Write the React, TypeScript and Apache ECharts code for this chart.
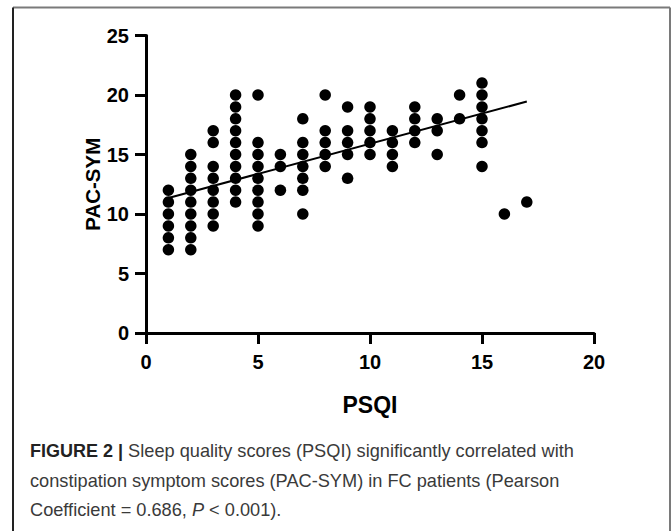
import React, { useEffect, useRef } from "react";
import * as echarts from "echarts";

const xTicks = [0, 5, 10, 15, 20];
const yTicks = [0, 5, 10, 15, 20, 25];
const psqiScores = [1, 2, 3, 4, 5, 6, 7, 8, 9, 10, 11, 12, 13, 14, 15, 16, 17];
const pacSymByPsqi: number[][] = [
  [7, 8, 9, 10, 11, 12],
  [7, 8, 9, 10, 11, 12, 13, 14, 15],
  [9, 10, 11, 12, 13, 14, 16, 17],
  [11, 12, 13, 14, 15, 16, 17, 18, 19, 20],
  [9, 10, 11, 12, 13, 14, 15, 16, 20],
  [12, 14, 15],
  [10, 12, 13, 14, 15, 16, 18],
  [14, 15, 16, 17, 20],
  [13, 15, 16, 17, 19],
  [15, 16, 17, 18, 19],
  [14, 15, 16, 17],
  [16, 17, 18, 19],
  [15, 17, 18],
  [18, 20],
  [14, 16, 17, 18, 19, 20, 21],
  [10],
  [11],
];
const fitLineX = [1, 17];
const fitLineY = [11.35, 19.45];

const captionLines = [
  "{b|FIGURE 2 |} Sleep quality scores (PSQI) significantly correlated with",
  "constipation symptom scores (PAC-SYM) in FC patients (Pearson",
  "Coefficient = 0.686, {i|P} < 0.001).",
];

export default function App() {
  const ref = useRef<HTMLDivElement>(null);
  useEffect(() => {
    if (!ref.current) return;
    const chart = echarts.init(ref.current, null, { renderer: "svg" });
    const points: number[][] = [];
    psqiScores.forEach((x, i) => {
      pacSymByPsqi[i].forEach((y) => points.push([x, y]));
    });
    const fit = fitLineX.map((x, i) => [x, fitLineY[i]]);
    const font = "'Liberation Sans', Arial, sans-serif";
    const capFont = "'Liberation Sans', Arial, sans-serif";
    chart.setOption({
      animation: false,
      backgroundColor: "#fff",
      grid: { left: 146, right: 78, top: 35.5, bottom: 198 },
      xAxis: {
        type: "value",
        min: xTicks[0],
        max: xTicks[xTicks.length - 1],
        interval: 5,
        splitLine: { show: false },
        axisLine: { lineStyle: { color: "#000", width: 3 } },
        axisTick: { length: 11, lineStyle: { color: "#000", width: 3 } },
        axisLabel: { color: "#000", fontSize: 20, fontWeight: "bold", fontFamily: font, margin: 19 },
        name: "PSQI",
        nameLocation: "middle",
        nameGap: 60,
        nameMoveOverlap: false,
        nameTextStyle: { color: "#000", fontSize: 23, fontWeight: "bold", fontFamily: font },
      },
      yAxis: {
        type: "value",
        min: yTicks[0],
        max: yTicks[yTicks.length - 1],
        interval: 5,
        splitLine: { show: false },
        axisLine: { lineStyle: { color: "#000", width: 3 } },
        axisTick: { length: 11, lineStyle: { color: "#000", width: 3 } },
        axisLabel: { color: "#000", fontSize: 20, fontWeight: "bold", fontFamily: font, margin: 17 },
        name: "PAC-SYM",
        nameLocation: "middle",
        nameGap: 43,
        nameMoveOverlap: false,
        nameTextStyle: { color: "#000", fontSize: 20.5, fontWeight: "bold", fontFamily: font },
      },
      series: [
        {
          type: "scatter",
          data: points,
          symbolSize: 11.5,
          itemStyle: { color: "#000", opacity: 1 },
          clip: false,
        },
        {
          type: "line",
          data: fit,
          symbol: "none",
          lineStyle: { color: "#000", width: 2 },
          z: 3,
        },
      ],
      graphic: [
        { type: "line", shape: { x1: 13, y1: 7.5, x2: 670, y2: 7.5 }, style: { stroke: "#7a7a7a", lineWidth: 2 } },
        { type: "line", shape: { x1: 670, y1: 7.5, x2: 670, y2: 531 }, style: { stroke: "#7a7a7a", lineWidth: 2 } },
        { type: "line", shape: { x1: 13, y1: 7.5, x2: 13, y2: 531 }, style: { stroke: "#222", lineWidth: 2 } },
        ...captionLines.map((t, i) => ({
          type: "text",
          left: 30,
          top: 442 + i * 29.5,
          style: {
            text: t,
            fill: "#3a3a3a",
            font: `18.2px ${capFont}`,
            rich: {
              b: { fontWeight: "bold", fontSize: 18, fontFamily: capFont, fill: "#222" },
              i: { fontStyle: "italic", fontSize: 18.2, fontFamily: capFont, fill: "#3a3a3a" },
            },
          },
        })),
      ],
    });
    return () => chart.dispose();
  }, []);
  return <div ref={ref} style={{ position: "fixed", left: 0, top: 0, width: 672, height: 531 }} />;
}
